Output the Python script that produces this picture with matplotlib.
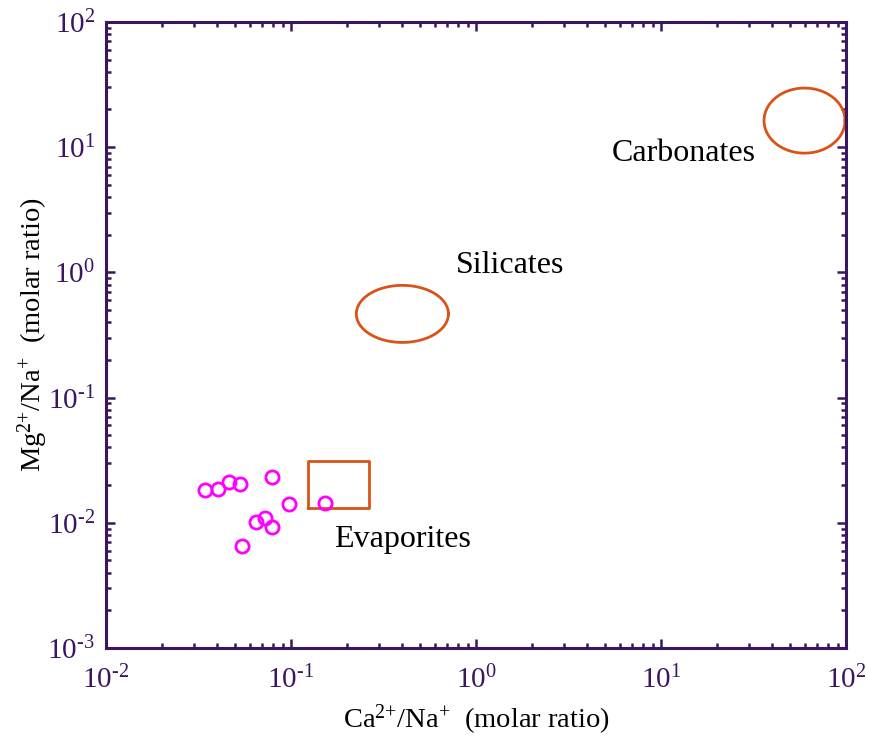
import numpy as np
import matplotlib.pyplot as plt
from matplotlib.ticker import LogLocator, FuncFormatter, NullFormatter

plt.rcParams['font.family'] = ['Liberation Serif', 'DejaVu Serif']
plt.rcParams['mathtext.fontset'] = 'custom'
plt.rcParams['mathtext.rm'] = 'Liberation Serif'
plt.rcParams['mathtext.it'] = 'Liberation Serif:italic'
plt.rcParams['mathtext.default'] = 'regular'
plt.rcParams['axes.unicode_minus'] = False

####################
# DATA
####################
# Sample points (Ca/Na, Mg/Na molar ratios)
ca_na = [0.0343, 0.0402, 0.0464, 0.0530, 0.0793, 0.098, 0.153,
         0.0644, 0.0723, 0.0790, 0.0543]
mg_na = [0.0183, 0.0185, 0.0210, 0.0203, 0.0233, 0.0142, 0.0143,
         0.0101, 0.0109, 0.0092, 0.0065]

# End-member domains: centre (x, y) and half-size in decades (x, y)
silicates_c = (0.40, 0.466)
silicates_r = (0.249, 0.228)
carbonates_c = (59.7, 16.3)
carbonates_r = (0.219, 0.260)
# Evaporites box: x range, y range
evap_x = (0.124, 0.264)
evap_y = (0.0131, 0.0313)

labels = {'Carbonates': (5.4, 7.8),
          'Silicates': (0.78, 0.98),
          'Evaporites': (0.17, 0.0064)}

axis_clr = '#3b1660'
line_clr = '#d95319'


def log_ellipse(center, radii, n=200):
    t = np.linspace(0, 2 * np.pi, n)
    lx = np.log10(center[0]) + radii[0] * np.cos(t)
    ly = np.log10(center[1]) + radii[1] * np.sin(t)
    return 10 ** lx, 10 ** ly


def pow_label(val, pos):
    e = int(round(np.log10(val)))
    return r'$10^{\text{%d}}$' % e


####################
# PLOT
####################
fig = plt.figure(figsize=(8.69, 7.42), dpi=100)
ax = fig.add_axes([0.122, 0.1267, 0.8515, 0.8437])

ax.plot(ca_na, mg_na, 'o', mfc='none', mec='#ff00ff', ms=9.5, mew=2.0,
        ls='none', zorder=3)

for c, r in [(silicates_c, silicates_r), (carbonates_c, carbonates_r)]:
    ex, ey = log_ellipse(c, r)
    ax.plot(ex, ey, color=line_clr, lw=2.0, clip_on=False)

bx = [evap_x[0], evap_x[1], evap_x[1], evap_x[0], evap_x[0]]
by = [evap_y[0], evap_y[0], evap_y[1], evap_y[1], evap_y[0]]
ax.plot(bx, by, color=line_clr, lw=2.0)

for txt, (tx, ty) in labels.items():
    ax.text(tx, ty, txt, fontsize=23, ha='left', va='baseline', color='k')

ax.set_xscale('log')
ax.set_yscale('log')
ax.set_xlim(1e-2, 1e2)
ax.set_ylim(1e-3, 1e2)

for a in (ax.xaxis, ax.yaxis):
    a.set_major_locator(LogLocator(base=10, numticks=10))
    a.set_minor_locator(LogLocator(base=10, subs=np.arange(2, 10), numticks=10))
    a.set_major_formatter(FuncFormatter(pow_label))
    a.set_minor_formatter(NullFormatter())

for s in ax.spines.values():
    s.set_color(axis_clr)
    s.set_linewidth(2.2)
ax.tick_params(which='both', direction='in', top=True, right=True,
               color=axis_clr, labelcolor=axis_clr, width=1.8)
ax.tick_params(which='major', length=6.5, labelsize=21)
ax.tick_params(axis='x', which='major', pad=13)
ax.tick_params(axis='y', which='major', pad=8)
ax.tick_params(which='minor', length=3.5)

ax.set_xlabel(r'Ca$^{\text{2+}}$/Na$^{\text{+}}$  (molar ratio)', fontsize=20.5)
ax.set_ylabel(r'Mg$^{\text{2+}}$/Na$^{\text{+}}$  (molar ratio)', fontsize=20.5)
ax.xaxis.set_label_coords(0.5, -0.088)
ax.yaxis.set_label_coords(-0.0757, 0.5)

fig.savefig('out.png', dpi=100)
